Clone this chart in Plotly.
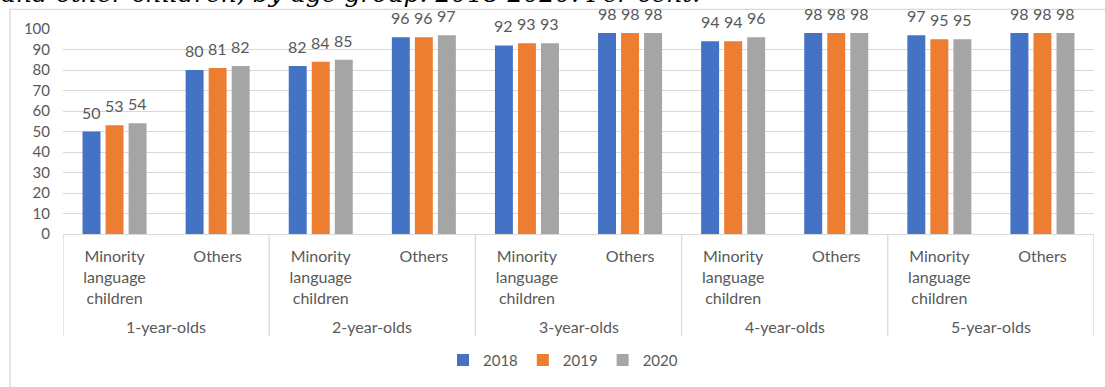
import plotly.graph_objects as go

# ---- data ----
years = ["2018", "2019", "2020"]
age_groups = ["1-year-olds", "2-year-olds", "3-year-olds", "4-year-olds", "5-year-olds"]
child_groups = ["Minority<br>language<br>children", "Others"]
v2018 = [50, 80, 82, 96, 92, 98, 94, 98, 97, 98]
v2019 = [53, 81, 84, 96, 93, 98, 94, 98, 95, 98]
v2020 = [54, 82, 85, 97, 93, 98, 96, 98, 95, 98]
colors = ["#4472C4", "#ED7D31", "#A5A5A5"]
title_text = "and other children, by age group. 2018-2020. Per cent."

W, H = 1105, 387
ML, MR, MT, MB = 63, 11, 29, 150
PW, PH = W - ML - MR, H - MT - MB
BARGAP, BARGROUPGAP = 0.33, 0.22

def px_to_px(x):   # pixel x -> paper x
    return (x - ML) / PW

def py_to_py(y):   # pixel y -> paper y
    return 1 - (y - MT) / PH

inner_labels = [c for _ in age_groups for c in child_groups]
xpos = list(range(len(inner_labels)))

TXT = "#595959"
GRID = "#D9D9D9"
FONT = "Lato"

fig = go.Figure()
series = [v2018, v2019, v2020]
for name, vals, col in zip(years, series, colors):
    fig.add_trace(go.Bar(
        x=xpos, y=vals, name=name, marker=dict(color=col, line=dict(width=0)),
        hoverinfo="skip",
    ))

annotations = []
# data labels above each bar (placed via the same x scale, offset into the group slot)
slot = (1 - BARGAP) / len(series)
for i, vals in enumerate(series):
    off = (i - (len(series) - 1) / 2) * slot
    for j, v in zip(xpos, vals):
        annotations.append(dict(x=j + off, xref="x", y=v, yref="y", text=str(v),
                                showarrow=False, yanchor="bottom", yshift=9, borderpad=0,
                                font=dict(family=FONT, size=16, color=TXT)))

shapes = []
# dividers between age groups (and the two ends)
for k in range(len(age_groups) + 1):
    xv = -0.5 + 2 * k
    shapes.append(dict(type="line", xref="x", yref="paper", x0=xv, x1=xv,
                       y0=0, y1=py_to_py(341), line=dict(color=GRID, width=1.3), layer="below"))
# chart frame
shapes.append(dict(type="rect", xref="paper", yref="paper",
                   x0=px_to_px(10), x1=px_to_px(1130), y0=py_to_py(420), y1=py_to_py(9),
                   line=dict(color=GRID, width=1.3), fillcolor="rgba(0,0,0,0)"))

for k, ag in enumerate(age_groups):
    annotations.append(dict(x=2 * k + 0.5, xref="x", y=py_to_py(331), yref="paper",
                            text=ag, showarrow=False, yanchor="middle",
                            font=dict(family=FONT, size=16, color=TXT)))
annotations.append(dict(x=px_to_px(0), xref="paper", xanchor="left",
                        y=py_to_py(6), yref="paper", yanchor="bottom", yshift=-3, borderpad=0,
                        text=title_text, showarrow=False,
                        font=dict(family="DejaVu Serif", size=25, color="#000000", style="italic")))

fig.update_layout(
    width=W, height=H, margin=dict(l=ML, r=MR, t=MT, b=MB, pad=0),
    paper_bgcolor="white", plot_bgcolor="white",
    barmode="group", bargap=BARGAP, bargroupgap=BARGROUPGAP,
    font=dict(family=FONT, color=TXT),
    xaxis=dict(range=[-0.5, 9.5], tickmode="array", tickvals=xpos, ticktext=inner_labels,
               showgrid=False, zeroline=False, showline=True, linecolor=GRID, linewidth=1.3,
               ticks="", tickfont=dict(family=FONT, size=16, color=TXT), ticklabelstandoff=8,
               fixedrange=True),
    yaxis=dict(range=[0, 100], dtick=10, showgrid=True, gridcolor=GRID, gridwidth=1.3,
               zeroline=False, showline=False, ticks="",
               tickfont=dict(family=FONT, size=15, color=TXT), ticklabelstandoff=12,
               fixedrange=True),
    legend=dict(orientation="h", x=px_to_px(563), xanchor="center", y=py_to_py(365),
                yanchor="middle", font=dict(family=FONT, size=15, color=TXT),
                itemwidth=30, bgcolor="rgba(0,0,0,0)"),
    shapes=shapes, annotations=annotations,
)

fig.write_html("out.html")
